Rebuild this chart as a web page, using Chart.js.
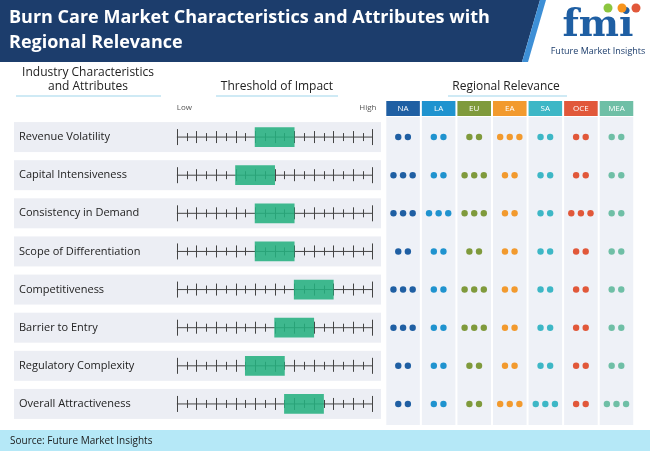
<!DOCTYPE html>
<html>
<head>
<meta charset="utf-8">
<script src="https://cdn.jsdelivr.net/npm/chart.js@4.4.1/dist/chart.umd.min.js"></script>
<style>
  html, body { margin: 0; padding: 0; background: #fff; }
  #wrap { width: 650px; height: 451px; position: relative; }
</style>
</head>
<body>
<div id="wrap"><canvas id="chart" width="650" height="451"></canvas></div>
<script>
  // ─── Data ───────────────────────────────────────────────────────────────────
  const attributes = [
    "Revenue Volatility", "Capital Intensiveness", "Consistency in Demand", "Scope of Differentiation",
    "Competitiveness", "Barrier to Entry", "Regulatory Complexity", "Overall Attractiveness",
  ];
  // threshold of impact, on a 0 (Low) .. 20 (High) scale
  const impactLow  = [8, 6, 8, 8, 12, 10, 7, 11];
  const impactHigh = [12, 10, 12, 12, 16, 14, 11, 15];
  const regions = ["NA", "LA", "EU", "EA", "SA", "OCE", "MEA"];
  const regionColors = ["#1f5fa3", "#1f93cf", "#7f9a3c", "#f29a2e", "#3db7c6", "#e1583a", "#6fbfa6"];
  // dots per attribute row, one value per region
  const relNA  = [2, 3, 3, 2, 3, 3, 2, 2];
  const relLA  = [2, 2, 3, 2, 2, 2, 2, 2];
  const relEU  = [2, 3, 3, 2, 3, 3, 2, 2];
  const relEA  = [3, 2, 2, 2, 2, 2, 2, 3];
  const relSA  = [2, 2, 2, 2, 2, 2, 2, 3];
  const relOCE = [2, 2, 3, 2, 2, 2, 2, 2];
  const relMEA = [2, 2, 2, 2, 2, 2, 2, 3];
  const relevance = [relNA, relLA, relEU, relEA, relSA, relOCE, relMEA];

  // ─── Datasets ───────────────────────────────────────────────────────────────
  const DOT_GAP = 0.27;
  const dotSets = regions.map((r, ri) => {
    const pts = [];
    relevance[ri].forEach((n, row) => {
      for (let k = 0; k < n; k++) pts.push({ x: ri + (k - (n - 1) / 2) * DOT_GAP, y: attributes[row] });
    });
    return {
      type: "scatter", label: r, data: pts, xAxisID: "xr",
      backgroundColor: regionColors[ri], borderWidth: 0, pointRadius: 3.2, clip: false,
    };
  });

  const FONT = "'Open Sans', 'Noto Sans', sans-serif";

  // ─── Backdrop plugin: header, bands, column panels, ticks ──────────────────
  const backdrop = {
    id: "backdrop",
    beforeDatasetsDraw(chart) {
      const { ctx, scales } = chart;
      const x = scales.x, xr = scales.xr, y = scales.y;
      ctx.save();
      // header band
      ctx.fillStyle = "#1c3d6c";
      ctx.beginPath(); ctx.moveTo(0, 0); ctx.lineTo(540, 0); ctx.lineTo(522, 62); ctx.lineTo(0, 62); ctx.fill();
      ctx.fillStyle = "#3d8fd6";
      ctx.beginPath(); ctx.moveTo(540, 0); ctx.lineTo(546, 0); ctx.lineTo(528, 62); ctx.lineTo(522, 62); ctx.fill();
      ctx.fillStyle = "#fff";
      ctx.font = "bold 18px " + FONT;
      ctx.textBaseline = "middle";
      ctx.fillText("Burn Care Market Characteristics and Attributes with", 9, 18);
      ctx.fillText("Regional Relevance", 9, 43);
      // logo
      ctx.fillStyle = "#1f5fa3";
      ctx.font = "bold 38px 'DejaVu Serif', serif";
      ctx.textAlign = "center";
      ctx.fillText("fmi", 598, 26);
      ["#8cc63f", "#f7941d", "#e1583a"].forEach((c, i) => {
        ctx.fillStyle = c; ctx.beginPath(); ctx.arc(608 + i * 14, 8, 4.5, 0, Math.PI * 2); ctx.fill();
      });
      ctx.fillStyle = "#1c3d6c";
      ctx.font = "9px " + FONT;
      ctx.fillText("Future Market Insights", 598, 51);

      // section titles
      ctx.fillStyle = "#222";
      ctx.font = "12px " + FONT;
      ctx.fillText("Industry Characteristics", 88, 73);
      ctx.fillText("and Attributes", 88, 87);
      ctx.fillText("Threshold of Impact", 277, 87);
      ctx.fillText("Regional Relevance", 506, 87);
      ctx.strokeStyle = "#bfe3f2"; ctx.lineWidth = 1.5;
      [[16, 161], [216, 338], [448, 567]].forEach(([a, b]) => {
        ctx.beginPath(); ctx.moveTo(a, 96); ctx.lineTo(b, 96); ctx.stroke();
      });
      ctx.fillStyle = "#555"; ctx.font = "8px " + FONT;
      ctx.textAlign = "left"; ctx.fillText("Low", x.getPixelForValue(0), 108);
      ctx.textAlign = "right"; ctx.fillText("High", x.getPixelForValue(20) + 4, 108);

      // region column panels + headers
      const colW = xr.getPixelForValue(1) - xr.getPixelForValue(0) - 2;
      regions.forEach((r, i) => {
        const cx = xr.getPixelForValue(i);
        ctx.fillStyle = "#eef1f7";
        ctx.fillRect(cx - colW / 2, 117, colW, 308);
        ctx.fillStyle = regionColors[i];
        ctx.fillRect(cx - colW / 2, 101, colW, 15);
        ctx.fillStyle = "#fff"; ctx.font = "8px " + FONT; ctx.textAlign = "center";
        ctx.fillText(r, cx, 109);
      });

      // row bands, labels, ticks
      attributes.forEach((a, row) => {
        const cy = y.getPixelForValue(row);
        ctx.fillStyle = "#eceef4";
        ctx.fillRect(14, cy - 15, 367, 30);
        ctx.fillStyle = "#222"; ctx.font = "11px " + FONT; ctx.textAlign = "left";
        ctx.fillText(a, 19, cy);
        const x0 = x.getPixelForValue(0), x1 = x.getPixelForValue(20);
        ctx.strokeStyle = "#444"; ctx.lineWidth = 1;
        ctx.beginPath(); ctx.moveTo(x0, cy); ctx.lineTo(x1, cy); ctx.stroke();
        for (let t = 0; t <= 20; t++) {
          const h = (t === 0 || t === 20) ? 8 : (t % 2 === 0 ? 6 : 4);
          const px = Math.round(x.getPixelForValue(t)) + 0.5;
          ctx.beginPath(); ctx.moveTo(px, cy - h); ctx.lineTo(px, cy + h); ctx.stroke();
        }
      });

      // footer
      ctx.fillStyle = "#b5e8f7";
      ctx.fillRect(0, 430, 650, 21);
      ctx.fillStyle = "#1a1a1a"; ctx.font = "10px " + FONT; ctx.textAlign = "left";
      ctx.fillText("Source: Future Market Insights", 10, 441);
      ctx.restore();
    },
  };

  // ─── Chart ──────────────────────────────────────────────────────────────────
  // x: threshold 0..20 maps to ~175..373 px; xr: region index 0..6 maps to ~404..620 px
  new Chart(document.getElementById("chart"), {
    data: {
      labels: attributes,
      datasets: [
        {
          type: "bar", label: "Threshold",
          data: impactLow.map((lo, i) => [lo, impactHigh[i]]),
          backgroundColor: "rgba(38,176,128,0.88)", barThickness: 19, borderWidth: 0, xAxisID: "x",
        },
        ...dotSets,
      ],
    },
    options: {
      indexAxis: "y",
      responsive: false,
      animation: false,
      layout: { padding: { top: 118, bottom: 28, left: 0, right: 0 } },
      plugins: { legend: { display: false }, tooltip: { enabled: false } },
      scales: {
        x: { type: "linear", min: -17.68, max: 47.98, display: false },
        xr: { type: "linear", min: -11.22, max: 6.83, display: false },
        y: { type: "category", display: false, offset: true, grid: { display: false } },
      },
    },
    plugins: [backdrop],
  });
</script>
</body>
</html>
